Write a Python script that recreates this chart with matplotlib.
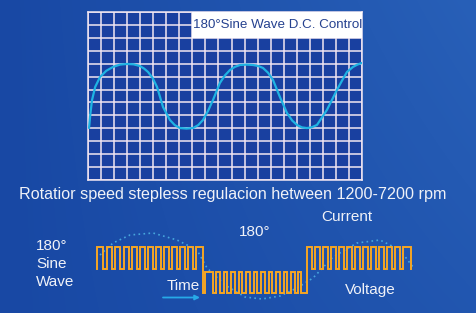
import numpy as np
import matplotlib
matplotlib.use("Agg")
import matplotlib.pyplot as plt
from matplotlib.patches import Rectangle

# ---------------- data ----------------
# grid of the oscilloscope screen (columns x rows)
grid_cols = 21
grid_rows = 13
title_text = "180°Sine Wave D.C. Control"

# sine wave on the screen, in grid units (x: columns from left, y: rows from bottom)
sine_x = [0.08, 0.18, 0.31, 0.55, 0.92, 1.4, 1.92, 2.45, 2.99, 3.5, 3.98, 4.30, 4.60,
          4.95, 5.29, 5.75, 6.28, 6.65, 7.05, 7.55, 8.05, 8.45, 8.81, 9.2, 9.58,
          10.11, 10.5, 10.88, 11.25, 11.65, 12.15, 12.64, 13.05, 13.41, 13.8, 14.18,
          14.71, 15.25, 15.65, 16.02, 16.4, 16.78, 17.15, 17.55, 18.31, 19.08,
          19.5, 19.85, 20.31, 20.65, 21.0]
sine_y = [4.02, 5.1, 6.19, 7.2, 7.97, 8.45, 8.75, 8.93, 8.98, 8.95, 8.82, 8.62, 8.36,
          7.9, 7.20, 5.65, 4.64, 4.25, 4.02, 3.98, 4.02, 4.25, 4.64, 5.35, 6.19,
          7.51, 8.1, 8.51, 8.75, 8.90, 8.93, 8.90, 8.82, 8.67, 8.3, 7.74,
          6.42, 5.19, 4.6, 4.26, 4.07, 4.02, 4.08, 4.26, 5.42, 6.97,
          7.75, 8.36, 8.75, 8.93, 9.06]

subtitle = "Rotatior speed stepless regulacion hetween 1200-7200 rpm"

# PWM pulse train: three sections (high level, low level, switching times, starts high?)
sec1_levels = (247, 269)
sec1_edges = [97.5, 103, 107, 112, 115.5, 120.5, 124, 129, 132.5, 137, 140.5, 145,
              148.5, 153, 156.5, 161, 164.5, 169, 172.5, 177, 180.5, 185, 188.5,
              193, 196.5, 203]
sec2_levels = (272, 293)
sec2_edges = [203, 205.5, 213, 216.5, 220, 224, 227.5, 231.5, 235, 239, 242.5, 246.5,
              250, 254, 257.5, 261.5, 265, 269, 272.5, 276.5, 280, 284, 287.5,
              291.5, 295, 298, 301.5, 307]
sec3_levels = (247, 269)
sec3_edges = [307, 312, 315.5, 320, 323.5, 328, 331.5, 336, 339.5, 344, 347.5, 352,
              355.5, 360, 363.5, 368, 371.5, 376, 379.5, 384, 387.5, 392, 395.5,
              400, 403.5, 411]
sec_start_high = [True, False, True]

# dotted reference sine (time vs level, image units)
ref_x = [100, 113, 130, 153, 177, 197, 207, 225, 245, 262, 280, 297, 313, 333,
         357, 380, 400, 413]
ref_y = [255, 243, 235, 233, 240, 250, 268, 285, 297, 299, 296, 288, 278, 257,
         243, 240, 250, 267]

labels = {
    "current": "Current",
    "deg": "180°",
    "left": "180°\nSine\nWave",
    "time": "Time",
    "voltage": "Voltage",
}

# ---------------- figure ----------------
W, H = 477, 313
fig = plt.figure(figsize=(W / 100, H / 100), dpi=100)

# background gradient
bg = fig.add_axes([0, 0, 1, 1])
xx = np.linspace(0, 1, W)[None, :]
yy = np.linspace(0, 1, H)[:, None]
c0 = np.array([24, 72, 164]) / 255.0
c1 = np.array([40, 96, 184]) / 255.0
t = np.clip(0.6 * xx + 0.4 * (1 - yy) * xx, 0, 1)
img = c0[None, None, :] * (1 - t[..., None]) + c1[None, None, :] * t[..., None]
bg.imshow(img, extent=[0, W, H, 0], aspect="auto", interpolation="bilinear")
bg.set_xlim(0, W)
bg.set_ylim(H, 0)
bg.axis("off")

# oscilloscope grid
gl, gr, gt, gb = 88, 362, 12, 180
gax = fig.add_axes([gl / W, (H - gb) / H, (gr - gl) / W, (gb - gt) / H])
gax.set_facecolor("#1940a0")
gax.set_xlim(0, grid_cols)
gax.set_ylim(0, grid_rows)
gax.set_xticks(range(grid_cols + 1))
gax.set_yticks(range(grid_rows + 1))
gax.tick_params(length=0, labelbottom=False, labelleft=False)
gax.grid(True, color="#f1e6f2", linewidth=1.1)
for s in gax.spines.values():
    s.set_color("#f1e6f2")
    s.set_linewidth(1.1)
gax.add_patch(Rectangle((8, 11), 13, 2, facecolor="white", edgecolor="none",
                        zorder=3, clip_on=False))
gax.text(14.5, 12.0, title_text, ha="center", va="center", color="#25418f",
         fontsize=9.6, family=["Liberation Sans", "DejaVu Sans"], zorder=4)
gax.plot(sine_x, sine_y, color="#1fb3e3", linewidth=1.6, zorder=5,
         solid_capstyle="round", solid_joinstyle="round")

# overlay in image coordinates
ov = fig.add_axes([0, 0, 1, 1])
ov.set_xlim(0, W)
ov.set_ylim(H, 0)
ov.axis("off")
ov.patch.set_alpha(0)

ov.plot(ref_x, ref_y, color="#55c3ee", linewidth=1.2, alpha=0.75,
        linestyle=(0, (1, 2)), zorder=2)

px, py = [sec1_edges[0]], [sec1_levels[1]]
for (hi, lo), edges, start in zip([sec1_levels, sec2_levels, sec3_levels],
                                  [sec1_edges, sec2_edges, sec3_edges],
                                  sec_start_high):
    for i in range(len(edges) - 1):
        high = start if i % 2 == 0 else (not start)
        lvl = hi if high else lo
        px += [edges[i], edges[i + 1]]
        py += [lvl, lvl]
px.append(sec3_edges[-1])
py.append(sec3_levels[1])
ov.plot(px, py, color="#f6a623", linewidth=1.4, zorder=3, solid_joinstyle="miter")

txt = dict(color="#f0f2f8", family=["Liberation Sans", "DejaVu Sans"], fontsize=11)
ov.text(233, 195, subtitle, ha="center", va="center",
        **{**txt, "fontsize": 11.6})
ov.text(347, 217, labels["current"], ha="center", va="center", **txt)
ov.text(255, 232, labels["deg"], ha="center", va="center", **txt)
ov.text(36, 264, labels["left"], ha="left", va="center", linespacing=1.35, **txt)
ov.text(183, 286, labels["time"], ha="center", va="center", **txt)
ov.text(370, 290, labels["voltage"], ha="center", va="center", **txt)

ov.annotate("", xy=(200, 297.5), xytext=(163, 297.5),
            arrowprops=dict(arrowstyle="-|>", color="#27a9e8", lw=1.3,
                            mutation_scale=7, shrinkA=0, shrinkB=0))

fig.savefig("out.png", dpi=100)
